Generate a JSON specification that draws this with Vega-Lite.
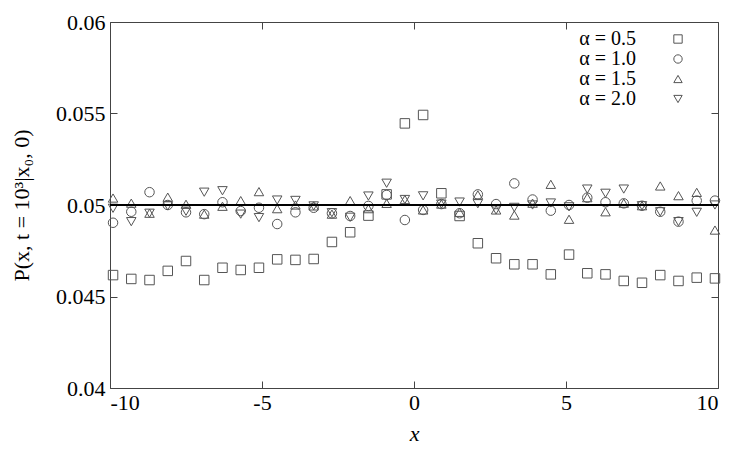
{
  "$schema": "https://vega.github.io/schema/vega-lite/v6.json",
  "width": 608,
  "height": 366,
  "autosize": {"type": "none"},
  "padding": {"left": 110, "top": 22, "right": 32, "bottom": 62},
  "background": "white",
  "config": {
    "view": {"stroke": null},
    "font": "Liberation Serif",
    "axis": {
      "grid": false,
      "domainColor": "#444",
      "tickColor": "#444",
      "domainWidth": 1,
      "tickWidth": 1,
      "tickSize": -7,
      "labelFontSize": 22,
      "labelColor": "black",
      "titleFontSize": 22,
      "titleFontWeight": "normal",
      "titleColor": "black",
      "labelFont": "Liberation Serif",
      "titleFont": "Liberation Serif"
    }
  },
  "data": {
    "values": [
      {"x": -9.9, "a": "α = 0.5", "p": 0.04617}, {"x": -9.3, "a": "α = 0.5", "p": 0.04596}, {"x": -8.7, "a": "α = 0.5", "p": 0.0459}, {"x": -8.1, "a": "α = 0.5", "p": 0.0464}, {"x": -7.5, "a": "α = 0.5", "p": 0.04694}, {"x": -6.9, "a": "α = 0.5", "p": 0.0459}, {"x": -6.3, "a": "α = 0.5", "p": 0.04657}, {"x": -5.7, "a": "α = 0.5", "p": 0.04645}, {"x": -5.1, "a": "α = 0.5", "p": 0.04657}, {"x": -4.5, "a": "α = 0.5", "p": 0.04703}, {"x": -3.9, "a": "α = 0.5", "p": 0.047}, {"x": -3.3, "a": "α = 0.5", "p": 0.04705}, {"x": -2.7, "a": "α = 0.5", "p": 0.04798}, {"x": -2.1, "a": "α = 0.5", "p": 0.04851}, {"x": -1.5, "a": "α = 0.5", "p": 0.04942}, {"x": -0.9, "a": "α = 0.5", "p": 0.05058}, {"x": -0.3, "a": "α = 0.5", "p": 0.05446}, {"x": 0.3, "a": "α = 0.5", "p": 0.05492}, {"x": 0.9, "a": "α = 0.5", "p": 0.05064}, {"x": 1.5, "a": "α = 0.5", "p": 0.0494}, {"x": 2.1, "a": "α = 0.5", "p": 0.04791}, {"x": 2.7, "a": "α = 0.5", "p": 0.04709}, {"x": 3.3, "a": "α = 0.5", "p": 0.04676}, {"x": 3.9, "a": "α = 0.5", "p": 0.04676}, {"x": 4.5, "a": "α = 0.5", "p": 0.04621}, {"x": 5.1, "a": "α = 0.5", "p": 0.04729}, {"x": 5.7, "a": "α = 0.5", "p": 0.04627}, {"x": 6.3, "a": "α = 0.5", "p": 0.04621}, {"x": 6.9, "a": "α = 0.5", "p": 0.04585}, {"x": 7.5, "a": "α = 0.5", "p": 0.04575}, {"x": 8.1, "a": "α = 0.5", "p": 0.04617}, {"x": 8.7, "a": "α = 0.5", "p": 0.04585}, {"x": 9.3, "a": "α = 0.5", "p": 0.04603}, {"x": 9.9, "a": "α = 0.5", "p": 0.04599},
      {"x": -9.9, "a": "α = 1.0", "p": 0.04903}, {"x": -9.3, "a": "α = 1.0", "p": 0.04963}, {"x": -8.7, "a": "α = 1.0", "p": 0.0507}, {"x": -8.1, "a": "α = 1.0", "p": 0.05}, {"x": -7.5, "a": "α = 1.0", "p": 0.0496}, {"x": -6.9, "a": "α = 1.0", "p": 0.0495}, {"x": -6.3, "a": "α = 1.0", "p": 0.05015}, {"x": -5.7, "a": "α = 1.0", "p": 0.04967}, {"x": -5.1, "a": "α = 1.0", "p": 0.04985}, {"x": -4.5, "a": "α = 1.0", "p": 0.04896}, {"x": -3.9, "a": "α = 1.0", "p": 0.0496}, {"x": -3.3, "a": "α = 1.0", "p": 0.04985}, {"x": -2.7, "a": "α = 1.0", "p": 0.04955}, {"x": -2.1, "a": "α = 1.0", "p": 0.0494}, {"x": -1.5, "a": "α = 1.0", "p": 0.04995}, {"x": -0.9, "a": "α = 1.0", "p": 0.05055}, {"x": -0.3, "a": "α = 1.0", "p": 0.04918}, {"x": 0.3, "a": "α = 1.0", "p": 0.04973}, {"x": 0.9, "a": "α = 1.0", "p": 0.05005}, {"x": 1.5, "a": "α = 1.0", "p": 0.04955}, {"x": 2.1, "a": "α = 1.0", "p": 0.05058}, {"x": 2.7, "a": "α = 1.0", "p": 0.05005}, {"x": 3.3, "a": "α = 1.0", "p": 0.05118}, {"x": 3.9, "a": "α = 1.0", "p": 0.0503}, {"x": 4.5, "a": "α = 1.0", "p": 0.04969}, {"x": 5.1, "a": "α = 1.0", "p": 0.05}, {"x": 5.7, "a": "α = 1.0", "p": 0.0504}, {"x": 6.3, "a": "α = 1.0", "p": 0.05015}, {"x": 6.9, "a": "α = 1.0", "p": 0.05009}, {"x": 7.5, "a": "α = 1.0", "p": 0.04996}, {"x": 8.1, "a": "α = 1.0", "p": 0.04963}, {"x": 8.7, "a": "α = 1.0", "p": 0.04909}, {"x": 9.3, "a": "α = 1.0", "p": 0.05024}, {"x": 9.9, "a": "α = 1.0", "p": 0.05024},
      {"x": -9.9, "a": "α = 1.5", "p": 0.05038}, {"x": -9.3, "a": "α = 1.5", "p": 0.0501}, {"x": -8.7, "a": "α = 1.5", "p": 0.04955}, {"x": -8.1, "a": "α = 1.5", "p": 0.05043}, {"x": -7.5, "a": "α = 1.5", "p": 0.05004}, {"x": -6.9, "a": "α = 1.5", "p": 0.0495}, {"x": -6.3, "a": "α = 1.5", "p": 0.04993}, {"x": -5.7, "a": "α = 1.5", "p": 0.05024}, {"x": -5.1, "a": "α = 1.5", "p": 0.05073}, {"x": -4.5, "a": "α = 1.5", "p": 0.0498}, {"x": -3.9, "a": "α = 1.5", "p": 0.05}, {"x": -3.3, "a": "α = 1.5", "p": 0.04995}, {"x": -2.7, "a": "α = 1.5", "p": 0.0495}, {"x": -2.1, "a": "α = 1.5", "p": 0.05024}, {"x": -1.5, "a": "α = 1.5", "p": 0.0498}, {"x": -0.9, "a": "α = 1.5", "p": 0.05009}, {"x": -0.3, "a": "α = 1.5", "p": 0.0503}, {"x": 0.3, "a": "α = 1.5", "p": 0.04973}, {"x": 0.9, "a": "α = 1.5", "p": 0.05005}, {"x": 1.5, "a": "α = 1.5", "p": 0.0496}, {"x": 2.1, "a": "α = 1.5", "p": 0.05055}, {"x": 2.7, "a": "α = 1.5", "p": 0.04973}, {"x": 3.3, "a": "α = 1.5", "p": 0.04945}, {"x": 3.9, "a": "α = 1.5", "p": 0.0501}, {"x": 4.5, "a": "α = 1.5", "p": 0.05113}, {"x": 5.1, "a": "α = 1.5", "p": 0.04922}, {"x": 5.7, "a": "α = 1.5", "p": 0.0504}, {"x": 6.3, "a": "α = 1.5", "p": 0.04963}, {"x": 6.9, "a": "α = 1.5", "p": 0.0501}, {"x": 7.5, "a": "α = 1.5", "p": 0.04996}, {"x": 8.1, "a": "α = 1.5", "p": 0.05104}, {"x": 8.7, "a": "α = 1.5", "p": 0.05051}, {"x": 9.3, "a": "α = 1.5", "p": 0.05069}, {"x": 9.9, "a": "α = 1.5", "p": 0.04863},
      {"x": -9.9, "a": "α = 2.0", "p": 0.04982}, {"x": -9.3, "a": "α = 2.0", "p": 0.04909}, {"x": -8.7, "a": "α = 2.0", "p": 0.04955}, {"x": -8.1, "a": "α = 2.0", "p": 0.04995}, {"x": -7.5, "a": "α = 2.0", "p": 0.04966}, {"x": -6.9, "a": "α = 2.0", "p": 0.0507}, {"x": -6.3, "a": "α = 2.0", "p": 0.05078}, {"x": -5.7, "a": "α = 2.0", "p": 0.0495}, {"x": -5.1, "a": "α = 2.0", "p": 0.04931}, {"x": -4.5, "a": "α = 2.0", "p": 0.05027}, {"x": -3.9, "a": "α = 2.0", "p": 0.05025}, {"x": -3.3, "a": "α = 2.0", "p": 0.04995}, {"x": -2.7, "a": "α = 2.0", "p": 0.04958}, {"x": -2.1, "a": "α = 2.0", "p": 0.04933}, {"x": -1.5, "a": "α = 2.0", "p": 0.05049}, {"x": -0.9, "a": "α = 2.0", "p": 0.05119}, {"x": -0.3, "a": "α = 2.0", "p": 0.0503}, {"x": 0.3, "a": "α = 2.0", "p": 0.0505}, {"x": 0.9, "a": "α = 2.0", "p": 0.05005}, {"x": 1.5, "a": "α = 2.0", "p": 0.05016}, {"x": 2.1, "a": "α = 2.0", "p": 0.05007}, {"x": 2.7, "a": "α = 2.0", "p": 0.04973}, {"x": 3.3, "a": "α = 2.0", "p": 0.04987}, {"x": 3.9, "a": "α = 2.0", "p": 0.05}, {"x": 4.5, "a": "α = 2.0", "p": 0.05011}, {"x": 5.1, "a": "α = 2.0", "p": 0.0499}, {"x": 5.7, "a": "α = 2.0", "p": 0.05087}, {"x": 6.3, "a": "α = 2.0", "p": 0.05064}, {"x": 6.9, "a": "α = 2.0", "p": 0.05087}, {"x": 7.5, "a": "α = 2.0", "p": 0.04996}, {"x": 8.1, "a": "α = 2.0", "p": 0.04963}, {"x": 8.7, "a": "α = 2.0", "p": 0.04909}, {"x": 9.3, "a": "α = 2.0", "p": 0.0496}, {"x": 9.9, "a": "α = 2.0", "p": 0.05}
    ]
  },
  "resolve": {"axis": {"x": "independent", "y": "independent"}},
  "layer": [
    {
      "mark": {"type": "point", "filled": false, "strokeWidth": 1, "color": "#555", "opacity": 1, "size": 90},
      "encoding": {
        "x": {"field": "x", "type": "quantitative", "scale": {"domain": [-10, 10], "nice": false},
          "axis": {"orient": "bottom", "values": [-10, -5, 0, 5, 10], "labelExpr": "replace(datum.label, '−', '-')", "labelPadding": 11, "title": "x", "titleFontStyle": "italic", "titlePadding": 10}},
        "y": {"field": "p", "type": "quantitative", "scale": {"domain": [0.04, 0.06], "nice": false, "zero": false},
          "axis": {"orient": "left", "values": [0.04, 0.045, 0.05, 0.055, 0.06], "format": ".3~f", "labelPadding": 12, "title": "P(x, t = 10³|x₀, 0)", "titlePadding": 22}},
        "shape": {"field": "a", "type": "nominal",
          "scale": {"domain": ["α = 0.5", "α = 1.0", "α = 1.5", "α = 2.0"], "range": ["square", "circle", "triangle-up", "triangle-down"]},
          "legend": {"title": null, "orient": "none", "legendX": 558, "legendY": 7, "padding": 0, "symbolOffset": 0, "labelFontSize": 20, "labelFont": "Liberation Serif", "labelColor": "black", "labelAlign": "right", "labelOffset": -52, "symbolSize": 70, "symbolType": "square", "symbolStrokeColor": "#555", "symbolStrokeWidth": 1, "symbolFillColor": "transparent", "rowPadding": 0}}
      }
    },
    {
      "mark": {"type": "rule", "color": "black", "strokeWidth": 1.8},
      "encoding": {"y": {"datum": 0.05, "type": "quantitative", "axis": null}}
    },
    {
      "mark": {"type": "point", "opacity": 0},
      "encoding": {
        "x": {"field": "x", "type": "quantitative", "axis": {"orient": "top", "values": [-10, -5, 0, 5, 10], "labels": false, "title": null}},
        "y": {"field": "p", "type": "quantitative", "axis": {"orient": "right", "values": [0.04, 0.045, 0.05, 0.055, 0.06], "labels": false, "title": null}}
      }
    }
  ]
}
